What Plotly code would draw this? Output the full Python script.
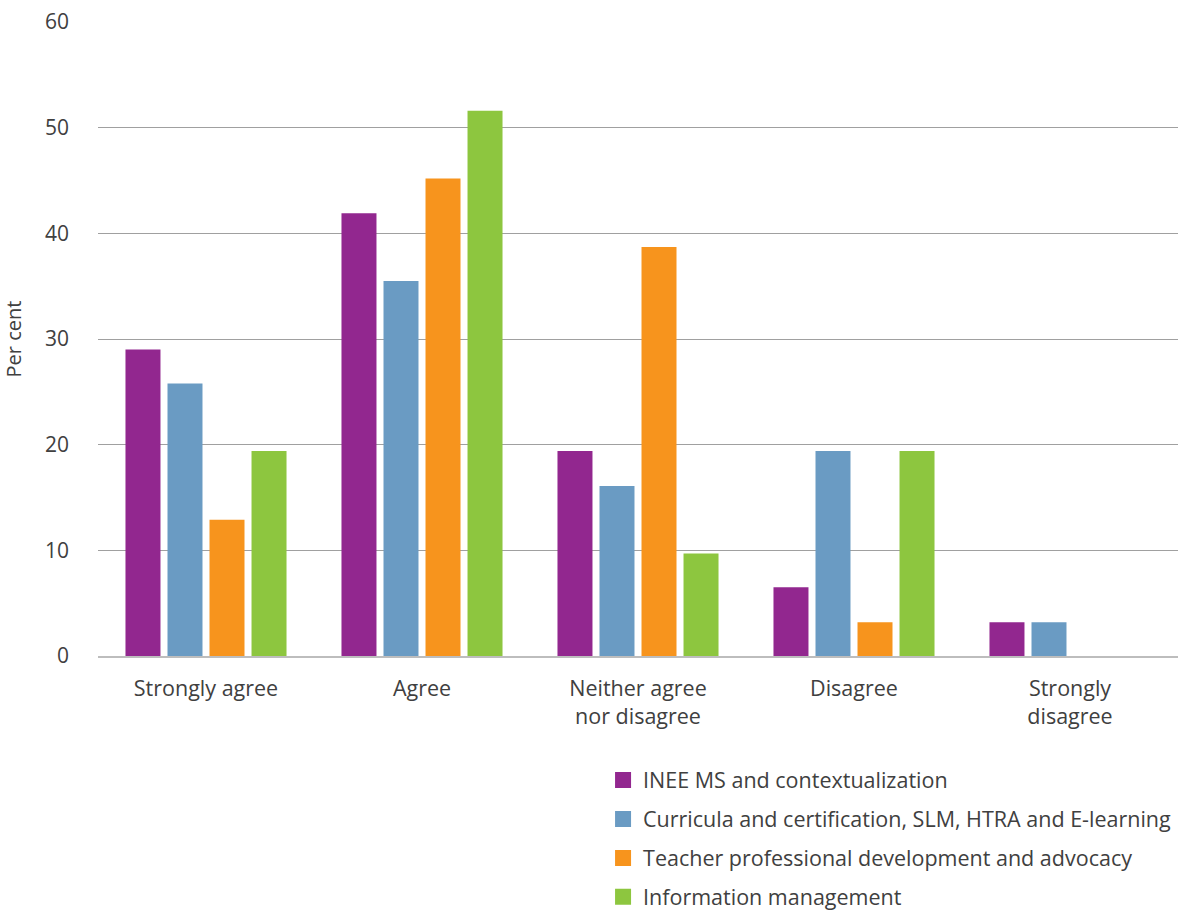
import plotly.graph_objects as go

categories = ["Strongly agree", "Agree", "Neither agree<br>nor disagree", "Disagree", "Strongly<br>disagree"]
series_names = [
    "INEE MS and contextualization",
    "Curricula and certification, SLM, HTRA and E-learning",
    "Teacher professional development and advocacy",
    "Information management",
]
inee_ms = [29.0, 41.9, 19.4, 6.5, 3.2]
curricula = [25.8, 35.5, 16.1, 19.4, 3.2]
teacher_dev = [12.9, 45.2, 38.7, 3.2, 0]
info_mgmt = [19.4, 51.6, 9.7, 19.4, 0]
colors = ["#92278F", "#6A9BC3", "#F7941D", "#8DC63F"]
y_ticks = [0, 10, 20, 30, 40, 50, 60]

font_family = "Open Sans, Noto Sans, sans-serif"
text_color = "#404040"

fig = go.Figure()
for i, (name, vals) in enumerate(zip(series_names, [inee_ms, curricula, teacher_dev, info_mgmt])):
    fig.add_trace(go.Bar(
        x=categories, y=vals, name=name, marker_color=colors[i],
        marker_line_width=0, showlegend=False,
    ))
    # square legend swatch
    fig.add_trace(go.Scatter(
        x=[None], y=[None], mode="markers", name=name,
        marker=dict(symbol="square", size=18, color=colors[i]),
        legendgroup=f"g{i}", showlegend=True,
    ))

fig.update_layout(
    width=1179, height=914,
    margin=dict(l=98, r=1, t=22, b=258, autoexpand=False),
    paper_bgcolor="white", plot_bgcolor="white",
    barmode="group", bargap=0.222, bargroupgap=0.167,
    font=dict(family=font_family, size=21, color=text_color),
    showlegend=True,
    legend=dict(
        orientation="v", x=0.5115, y=0.169, xref="container", yref="container",
        xanchor="left", yanchor="top",
        font=dict(size=21.5, color=text_color), tracegroupgap=8,
        itemwidth=30,
    ),
)
fig.update_yaxes(
    range=[0, 60], tickvals=y_ticks, showgrid=True, gridcolor="#a0a0a0", gridwidth=1,
    zeroline=False, showline=False, ticks="", ticklabelstandoff=28,
    title=dict(text="Per cent", font=dict(size=20, color=text_color), standoff=24),
    tickfont=dict(size=21, color=text_color),
)
fig.update_xaxes(
    showline=True, linecolor="#bdbdbd", linewidth=2, ticks="",
    tickfont=dict(size=21.5, color=text_color), ticklabelstandoff=12,
)

fig.write_html("out.html")
